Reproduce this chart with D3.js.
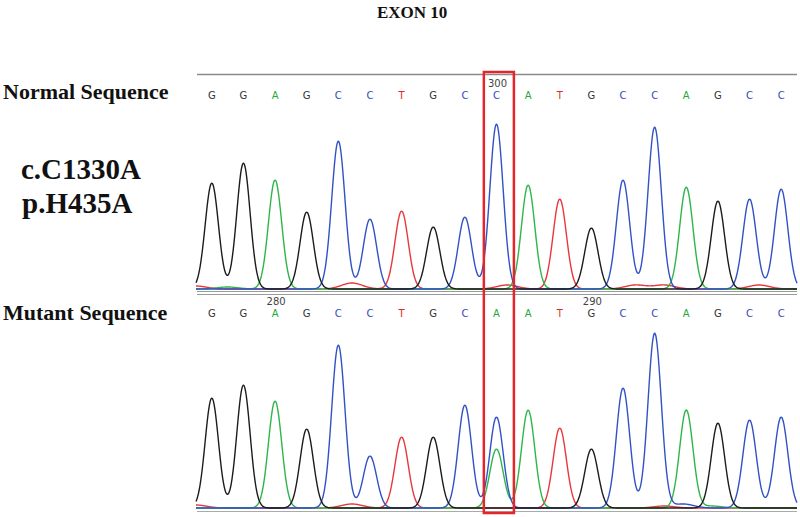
<!DOCTYPE html>
<html>
<head>
<meta charset="utf-8">
<script src="https://cdn.jsdelivr.net/npm/d3@7"></script>
<style>
body{margin:0;background:#fff;}
.lbl{font-family:"Liberation Serif","Times New Roman",serif;font-weight:bold;fill:#111;}
.base{font-family:"DejaVu Sans",Verdana,sans-serif;font-size:10px;text-anchor:middle;}
.tick{font-family:"DejaVu Sans",Verdana,sans-serif;font-size:10px;text-anchor:middle;fill:#444;}
</style>
</head>
<body>
<div id="chart"></div>
<script>
// called bases for each read
var normalBases=["G","G","A","G","C","C","T","G","C","C","A","T","G","C","C","A","G","C","C"];
var mutantBases=["G","G","A","G","C","C","T","G","C","A","A","T","G","C","C","A","G","C","C"];
// channel of the main peak at each position (mutant pos 9 main peak is still C)
var normalPeakBase=normalBases;
var mutantPeakBase=["G","G","A","G","C","C","T","G","C","C","A","T","G","C","C","A","G","C","C"];
// peak heights (signal units)
var normalPeaks=[106,126,109,77,148,70,78,62,72,165,104,90,61,109,162,102,88,90,100];
var mutantPeaks=[110,123,107,79,163,52,71,71,103,91,98,80,59,120,175,98,85,88,91];
// second peak under the same position (the heterozygous A)
var mutantSecond=[{i:9,base:"A",h:59}];
// small background bumps
var normalMinor=[{i:-0.5,base:"T",h:3},{i:0.5,base:"A",h:2},{i:4.43,base:"T",h:6},{i:9.34,base:"T",h:4},{i:13.4,base:"T",h:4},{i:14.3,base:"T",h:4},{i:17.3,base:"T",h:4}];
var mutantMinor=[{i:-0.5,base:"T",h:3},{i:4.43,base:"T",h:4},{i:14.3,base:"T",h:2},{i:14.9,base:"C",h:4},{i:15.8,base:"A",h:2}];
// position labels
var normalTicks=[{i:9,label:"300"}];
var mutantTicks=[{i:2,label:"280"},{i:12,label:"290"}];

var traceColor={A:"#2fb54a",C:"#3152c6",G:"#1c1c1c",T:"#e8383c"};
var letterColor={A:"#27a83a",C:"#3548c0",G:"#333333",T:"#e02a2a"};

var W=800,H=517;
var svg=d3.select("#chart").append("svg")
    .attr("width",W)
    .attr("height",H);

var x=d3.scaleLinear()
    .domain([-0.5,18.5])
    .range([196,797]);

function peakShape(peaks,sigma,base){
    // trace for one channel: each peak drawn as a bell around its position
    var pts=[];
    for(var t=-0.5;t<=18.5001;t+=0.02){
        var v=0;
        peaks.forEach(function(p){
            if(p.base===base){
                var s=p.minor?0.33:sigma;
                v+=p.h*Math.exp(-0.5*Math.pow((t-p.i)/s,2));
            }
        });
        pts.push([t,v]);
    }
    return pts;
}

function drawPanel(opt){
    var y=d3.scaleLinear()
        .domain([0,200])
        .range([opt.baseline,opt.baseline-200]);

    var peaks=[];
    opt.peakBase.forEach(function(b,i){
        peaks.push({i:i,base:b,h:opt.heights[i]});
    });
    (opt.second||[]).forEach(function(p){peaks.push(p);});
    opt.minor.forEach(function(p){
        peaks.push({i:p.i,base:p.base,h:p.h,minor:true});
    });

    var line=d3.line()
        .x(function(d){return x(d[0]);})
        .y(function(d){return y(d[1]);})
        .curve(d3.curveBasis);

    var g=svg.append("g");
    ["T","A","C","G"].forEach(function(b){
        g.append("path")
            .attr("d",line(peakShape(peaks,0.21,b)))
            .attr("fill","none")
            .attr("stroke",traceColor[b])
            .attr("stroke-width",1.4);
    });

    g.selectAll(".base")
        .data(opt.bases)
        .enter()
        .append("text")
        .attr("class","base")
        .attr("x",function(d,i){return x(i);})
        .attr("y",opt.letterY)
        .attr("fill",function(d){return letterColor[d];})
        .text(function(d){return d;});

    g.selectAll(".tick")
        .data(opt.ticks)
        .enter()
        .append("text")
        .attr("class","tick")
        .attr("x",function(d){return x(d.i)+1;})
        .attr("y",opt.letterY-12)
        .text(function(d){return d.label;});
}

// frame lines
svg.append("line").attr("x1",197).attr("x2",797).attr("y1",74.5).attr("y2",74.5)
    .attr("stroke","#8a8a8a").attr("stroke-width",1.5);
[291.5,294.5].forEach(function(yy){
    svg.append("line").attr("x1",197).attr("x2",797).attr("y1",yy).attr("y2",yy)
        .attr("stroke","#9a9a9a").attr("stroke-width",1.2);
});
svg.append("line").attr("x1",197).attr("x2",797).attr("y1",511.5).attr("y2",511.5)
    .attr("stroke","#aaaaaa").attr("stroke-width",1.2);

drawPanel({bases:normalBases,peakBase:normalPeakBase,heights:normalPeaks,minor:normalMinor,
    ticks:normalTicks,baseline:289,letterY:99});
drawPanel({bases:mutantBases,peakBase:mutantPeakBase,heights:mutantPeaks,second:mutantSecond,
    minor:mutantMinor,ticks:mutantTicks,baseline:508,letterY:317});

// highlight box around the mutated base
svg.append("rect")
    .attr("x",x(8.6))
    .attr("y",72)
    .attr("width",x(9.55)-x(8.6))
    .attr("height",441)
    .attr("fill","none")
    .attr("stroke","#e3262b")
    .attr("stroke-width",2.5);

svg.append("text").attr("class","lbl").attr("x",377).attr("y",18)
    .style("font-size","17px").text("EXON 10");
svg.append("text").attr("class","lbl").attr("x",3).attr("y",99)
    .style("font-size","22px").text("Normal Sequence");
svg.append("text").attr("class","lbl").attr("x",21).attr("y",179)
    .style("font-size","29px").text("c.C1330A");
svg.append("text").attr("class","lbl").attr("x",22).attr("y",213)
    .style("font-size","29px").text("p.H435A");
svg.append("text").attr("class","lbl").attr("x",3).attr("y",320)
    .style("font-size","22px").text("Mutant Sequence");
</script>
</body>
</html>
